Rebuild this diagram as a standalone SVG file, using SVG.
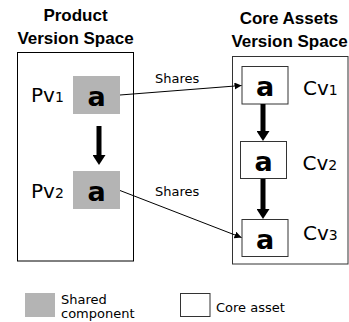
<svg xmlns="http://www.w3.org/2000/svg" width="349" height="322" viewBox="0 0 349 322">
<defs>
<style>
.title{font-family:"Liberation Sans",Arial,sans-serif;font-weight:bold;font-size:17px;fill:#000;text-anchor:middle}
.lbl{font-family:"DejaVu Sans",Verdana,sans-serif;font-size:13px;fill:#000}
.ver{font-family:"DejaVu Sans",Verdana,sans-serif;font-size:20px;fill:#000}
.sub{font-size:14px}
.a{font-family:"DejaVu Sans",Verdana,sans-serif;font-weight:bold;font-size:27px;fill:#000;text-anchor:middle}
.shared{fill:#b4b4b4;stroke:none}
.core{fill:#fff;stroke:#333;stroke-width:1}
.space{fill:none;stroke:#000;stroke-width:1}
.thin{stroke:#000;stroke-width:1;fill:none}
.thick{stroke:#000;stroke-width:5;fill:none}
</style>
<marker id="ah" markerUnits="userSpaceOnUse" markerWidth="8" markerHeight="8" refX="7" refY="3.5" orient="auto">
<path d="M0,0 L7,3.5 L0,7 z" fill="#000"/>
</marker>
<marker id="bh" markerUnits="userSpaceOnUse" markerWidth="11" markerHeight="13" refX="0" refY="6.5" orient="auto">
<path d="M0,0 L10,6.5 L0,13 z" fill="#000"/>
</marker>
</defs>
<rect width="349" height="322" fill="#fff"/>

<g id="product-space">
<text class="title" x="75.5" y="21">Product</text>
<text class="title" x="75.5" y="44">Version Space</text>
<rect class="space" x="17.5" y="52.5" width="116" height="208.5"/>
</g>

<g id="core-space">
<text class="title" x="289" y="24">Core Assets</text>
<text class="title" x="289.5" y="47">Version Space</text>
<rect x="232.5" y="56.5" width="115.5" height="207.5" fill="none" stroke="#333" stroke-width="1"/>
</g>

<g id="pv1">
<text class="ver" x="31" y="102">Pv<tspan class="sub">1</tspan></text>
<rect class="shared" x="73" y="76" width="47" height="38"/>
<text class="a" x="96.5" y="106">a</text>
</g>

<g id="pv2">
<text class="ver" x="31" y="197.5">Pv<tspan class="sub">2</tspan></text>
<rect class="shared" x="73" y="171" width="47" height="38"/>
<text class="a" x="96.5" y="200.5">a</text>
</g>

<g id="cv1">
<rect class="core" x="242" y="66.5" width="46" height="37.5"/>
<text class="a" x="265" y="96">a</text>
<text class="ver" x="303" y="94.5">Cv<tspan class="sub">1</tspan></text>
</g>

<g id="cv2">
<rect class="core" x="240.5" y="141.5" width="46" height="37"/>
<text class="a" x="263.5" y="171">a</text>
<text class="ver" x="302.5" y="170">Cv<tspan class="sub">2</tspan></text>
</g>

<g id="cv3">
<rect class="core" x="242" y="219.5" width="46" height="37"/>
<text class="a" x="265" y="248.5">a</text>
<text class="ver" x="303" y="240">Cv<tspan class="sub">3</tspan></text>
</g>

<g id="connectors">
<line class="thin" x1="120" y1="95" x2="241.5" y2="85.5" marker-end="url(#ah)"/>
<text class="lbl" x="155" y="83">Shares</text>
<line class="thin" x1="120" y1="190.5" x2="241.5" y2="237.5" marker-end="url(#ah)"/>
<text class="lbl" x="155" y="196">Shares</text>
<line class="thick" x1="99" y1="126" x2="99" y2="155" marker-end="url(#bh)"/>
<line class="thick" x1="263" y1="104" x2="263" y2="131" marker-end="url(#bh)"/>
<line class="thick" x1="263" y1="179" x2="263" y2="209" marker-end="url(#bh)"/>
</g>

<g id="legend">
<rect class="shared" x="25" y="293" width="30" height="24"/>
<text class="lbl" x="61" y="304">Shared</text>
<text class="lbl" x="61" y="317.5">component</text>
<rect class="core" x="180.5" y="293.5" width="29.5" height="23"/>
<text class="lbl" x="216" y="311.5">Core asset</text>
</g>
</svg>
